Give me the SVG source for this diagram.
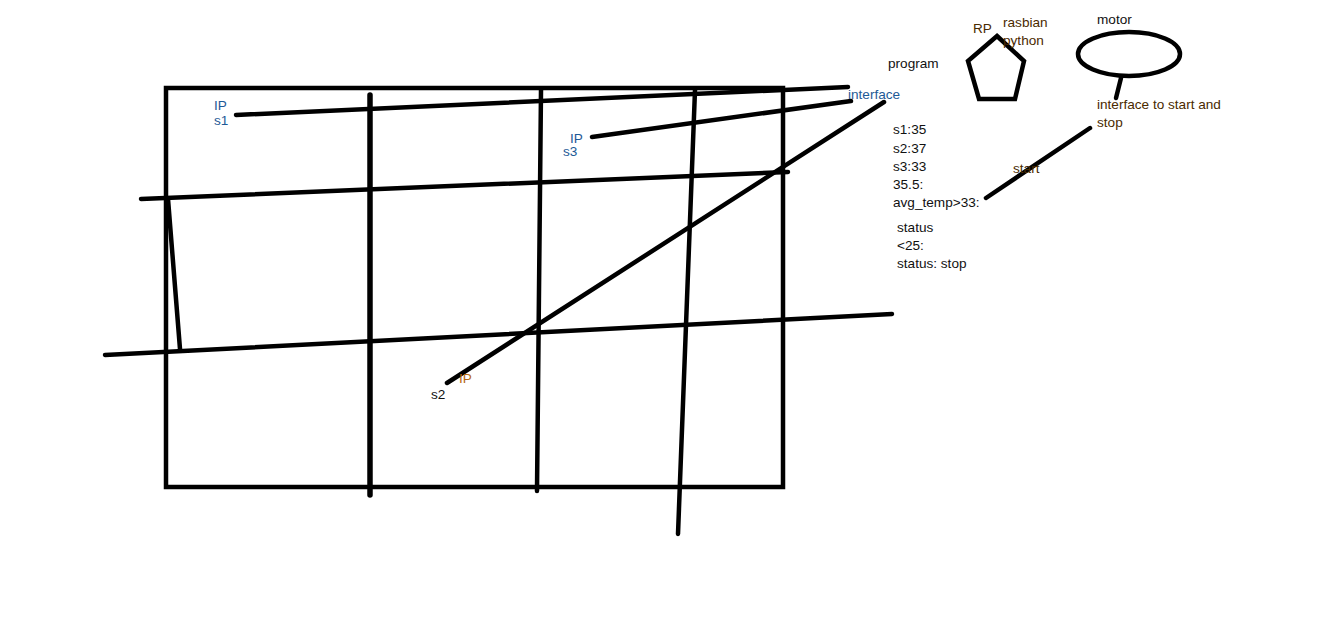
<svg xmlns="http://www.w3.org/2000/svg" width="1344" height="619" viewBox="0 0 1344 619">
<style>
.ln{stroke:#000;stroke-width:4.5;fill:none;stroke-linecap:round;stroke-linejoin:miter}
.thick{stroke-width:5.5}
text{font-family:"Liberation Sans",Arial,sans-serif;font-size:13.6px;fill:#111}
.blue{fill:#1e5a96}
.brown{fill:#4a2a00}
.orange{fill:#b86a10}
</style>
<rect width="1344" height="619" fill="#fff"/>
<g id="connectors">
<line class="ln" x1="236" y1="115" x2="848" y2="87"/>
<line class="ln" x1="592" y1="137" x2="851" y2="101"/>
<line class="ln" x1="884" y1="102" x2="447" y2="383"/>
<line class="ln thick" x1="370" y1="95" x2="370" y2="495"/>
<line class="ln" x1="541" y1="90" x2="537" y2="491"/>
<line class="ln" x1="695" y1="90" x2="678" y2="534"/>
<line class="ln" x1="141" y1="199" x2="788" y2="172"/>
<line class="ln" x1="105" y1="355" x2="892" y2="314"/>
<line class="ln" x1="168" y1="199" x2="180" y2="349"/>
<line class="ln" x1="1121" y1="78" x2="1116" y2="98"/>
<line class="ln" x1="986" y1="198" x2="1090" y2="128"/>
</g>
<g id="frame">
<rect class="ln" x="166" y="88" width="617" height="399" stroke-linecap="butt"/>
</g>
<g id="rp">
<polygon class="ln" points="997,36 1024,61 1015,99 979,99 968,61"/>
<text x="973" y="33" class="brown">RP</text>
<text x="1003" y="27" class="brown">rasbian</text>
<text x="1003" y="45" class="brown">python</text>
</g>
<g id="motor">
<ellipse class="ln" cx="1129" cy="54" rx="51" ry="22"/>
<text x="1097" y="24">motor</text>
</g>
<g id="motor-interface">
<text x="1097" y="109" class="brown">interface to start and</text>
<text x="1097" y="127" class="brown">stop</text>
</g>
<g id="program">
<text x="888" y="68">program</text>
<text x="848" y="99" class="blue">interface</text>
</g>
<g id="sensor1">
<text x="214" y="110" class="blue">IP</text>
<text x="214" y="125" class="blue">s1</text>
</g>
<g id="sensor3">
<text x="570" y="143" class="blue">IP</text>
<text x="563" y="156" class="blue">s3</text>
</g>
<g id="sensor2">
<text x="459" y="383" class="orange">IP</text>
<text x="431" y="399">s2</text>
</g>
<g id="notes">
<text x="893" y="134">s1:35</text>
<text x="893" y="153">s2:37</text>
<text x="893" y="171">s3:33</text>
<text x="893" y="189">35.5:</text>
<text x="893" y="207">avg_temp&gt;33:</text>
<text x="1013" y="173" class="brown">start</text>
<text x="897" y="232">status</text>
<text x="897" y="250">&lt;25:</text>
<text x="897" y="268">status: stop</text>
</g>
</svg>
